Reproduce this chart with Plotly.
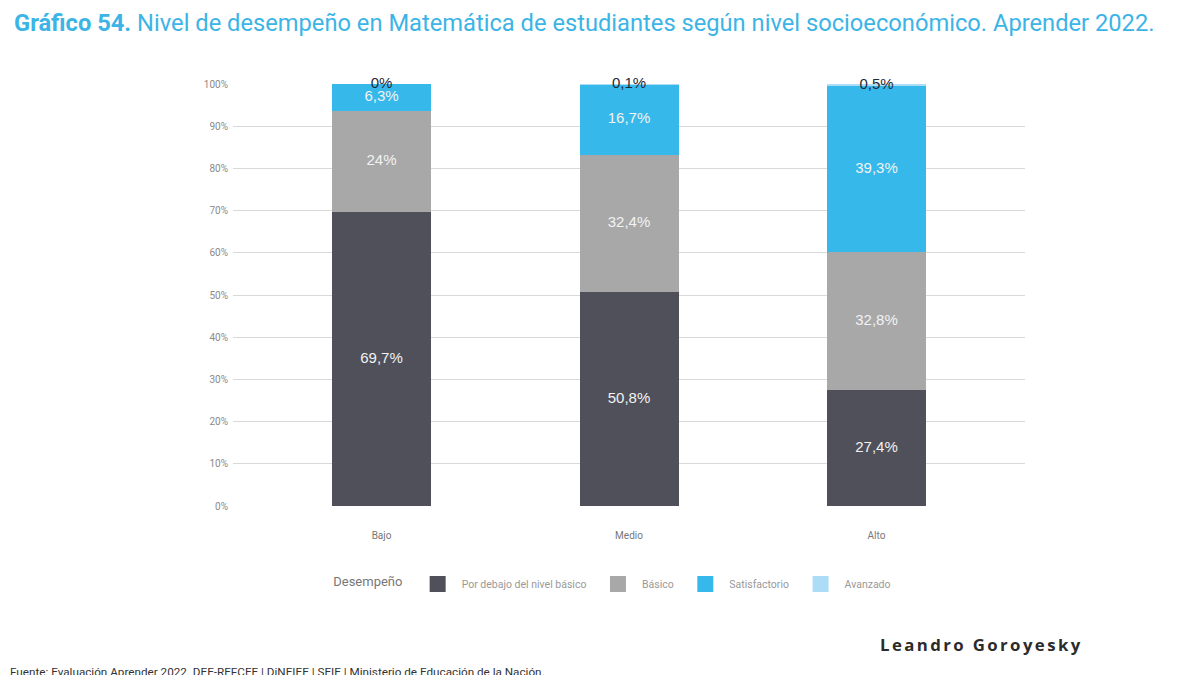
import numpy as np
import plotly.graph_objects as go

niveles = ["Bajo", "Medio", "Alto"]
series = ["Por debajo del nivel básico", "Básico", "Satisfactorio", "Avanzado"]
por_debajo = [69.7, 50.8, 27.4]
basico = [24, 32.4, 32.8]
satisfactorio = [6.3, 16.7, 39.3]
avanzado = [0, 0.1, 0.5]
etiquetas = [
    ["69,7%", "50,8%", "27,4%"],
    ["24%", "32,4%", "32,8%"],
    ["6,3%", "16,7%", "39,3%"],
    ["0%", "0,1%", "0,5%"],
]
yticks = [0, 10, 20, 30, 40, 50, 60, 70, 80, 90, 100]
ytick_text = [f"{v}%" for v in yticks]

colores = ["#4f5059", "#a8a8a8", "#36b9ea", "#acdcf6"]
color_texto = ["#f2f2f2", "#f2f2f2", "#f2f2f2", "#1f2a38"]

valores = [por_debajo, basico, satisfactorio, avanzado]

fig = go.Figure()
for nombre, vals, col in zip(series, valores, colores):
    fig.add_trace(go.Bar(x=niveles, y=vals, name=nombre, marker_color=col,
                         marker_line_width=0, width=0.4, showlegend=False))

# etiquetas en el centro de cada segmento
acum = np.cumsum(np.array(valores), axis=0)
for i in range(len(series)):
    centro = acum[i] - np.array(valores[i]) / 2
    fig.add_trace(go.Scatter(x=niveles, y=centro, mode="text", text=etiquetas[i],
                             textfont=dict(family="Liberation Sans", size=15, color=color_texto[i]),
                             showlegend=False, hoverinfo="skip", cliponaxis=False))

# leyenda con cuadrados grandes
for nombre, col in zip(series, colores):
    fig.add_trace(go.Scatter(x=[None], y=[None], mode="markers", name=nombre + "\u00a0",
                             marker=dict(symbol="square", size=17, color=col)))

fig.update_layout(
    width=1200, height=675,
    barmode="stack",
    margin=dict(l=225, r=183, t=76, b=177),
    plot_bgcolor="white", paper_bgcolor="white",
    font=dict(family="Roboto", color="#888888"),
    xaxis=dict(range=[-0.6, 2.6], showline=False, ticks="", ticklabelstandoff=22,
               tickfont=dict(size=10, color="#777777")),
    yaxis=dict(range=[0, 100], tickvals=yticks, ticktext=ytick_text, ticklabelstandoff=4,
               gridcolor="#d9d9d9", gridwidth=1.3, zeroline=False,
               tickfont=dict(size=10, color="#8a8a8a")),
    legend=dict(orientation="h", x=0.124, y=-0.185, xanchor="left", yanchor="middle",
                itemwidth=38,
                title=dict(text="Desempeño ", font=dict(size=13, color="#777777")),
                font=dict(size=10.5, color="#999999"), traceorder="normal"),
    title=dict(text="<b>Gráfico 54.</b> Nivel de desempeño en Matemática de estudiantes según nivel socioeconómico. Aprender 2022.",
               x=0.005, xanchor="left", y=0.978, yanchor="middle",
               font=dict(family="Roboto", size=23.7, color="#3cb4e6")),
)

fig.add_annotation(text='<span style="letter-spacing:2.4px"><b>Leandro Goroyesky</b></span>',
                   xref="paper", yref="paper",
                   x=(1077 - 225) / 792, y=-(636 - 498) / 422, xanchor="right", yanchor="middle",
                   showarrow=False, font=dict(family="Open Sans", size=16.8, color="#2b2b2b"))
fig.add_annotation(text="Fuente: Evaluación Aprender 2022. DEE-REFCEE | DiNEIEE | SEIE | Ministerio de Educación de la Nación.",
                   xref="paper", yref="paper", x=-225 / 792, y=-(664 - 498) / 422,
                   xanchor="left", yanchor="middle", showarrow=False,
                   font=dict(family="Roboto", size=11.7, color="#333333"))

fig.write_html("out.html")
